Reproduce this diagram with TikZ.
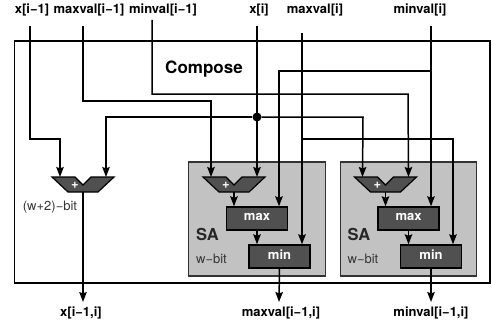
\documentclass[tikz,border=0pt]{standalone}
\usepackage{fontspec}
\setmainfont{TeX Gyre Heros}
\usepackage{tikz}
\usetikzlibrary{arrows.meta}
\definecolor{saGray}{HTML}{C2C2C2}
\definecolor{unitGray}{HTML}{505050}
\tikzset{
     outerBox/.style =
        { draw
        , line width=1.5pt
        , minimum width=475.5pt
        , minimum height=242pt
        },
     saBox/.style =
        { draw=black!80
        , fill=saGray
        , line width=1.2pt
        , minimum width=136.5pt
        , minimum height=114pt
        },
     unitNode/.style =
        { draw=black
        , fill=unitGray
        , line width=1.4pt
        , minimum width=61pt
        , minimum height=23pt
        , inner sep=0pt
        , text depth=3pt
        , text=white
        , font=\fontsize{13}{13}\selectfont\bfseries
        },
     adderBody/.style =
        { draw=black
        , fill=unitGray
        , line width=1.2pt
        },
     plusNode/.style =
        { inner sep=0pt
        , text=white
        , font=\fontsize{13}{13}\selectfont\bfseries
        },
     sigLabel/.style =
        { inner sep=0pt
        , font=\fontsize{13}{13}\selectfont\bfseries
        },
     widthLabel/.style =
        { inner sep=0pt
        , text=black!80
        , font=\fontsize{13}{13}\selectfont
        },
     saLabel/.style =
        { inner sep=0pt
        , text=black!85
        , font=\fontsize{16.5}{16.5}\selectfont\bfseries
        },
     wire/.style =
        { ->
        , line width=1.5pt
        }
}
% name, x of the notch
\newcommand{\adderUnit}[2]{
    \draw[adderBody] (#2-31,177) -- (#2-8,177) -- (#2,185) -- (#2+8,177)
        -- (#2+31,177) -- (#2+15,192) -- (#2-15,192) -- cycle;
    \node[plusNode] (#1) at (#2-8,185) {+};
    \coordinate (#1a) at (#2-23,177);
    \coordinate (#1b) at (#2+23,177);
    \coordinate (#1o) at (#2,192);
}

\begin{document}
\begin{tikzpicture}
            [ x=1pt
            , y=-1pt
            , >={Stealth[length=10pt,width=7.5pt,inset=1.5pt]}
            , node distance=151.5pt
            ]
            \useasboundingbox (0,0) rectangle (492,329);

            \node[outerBox] (compose) at (252.25,162) {};
            \node[saBox] (saA) at (257,219) {};
            \node[saBox] (saB) [right of=saA] {};

            \node[unitNode] (maxA) at (257,218.5) {max};
            \node[unitNode] (minA) at (279.5,256.5) {min};
            \node[unitNode] (maxB) [right of=maxA] {max};
            \node[unitNode] (minB) [right of=minA] {min};

            \adderUnit{addL}{83}
            \adderUnit{addA}{234}
            \adderUnit{addB}{385.5}

            % labels
            \node[sigLabel] (lblA) at (32,10) {x[i−1]};
            \node[sigLabel] (lblB) at (89,10) {maxval[i−1]};
            \node[sigLabel] (lblC) at (163,10) {minval[i−1]};
            \node[sigLabel] (lblD) at (259,10) {x[i]};
            \node[sigLabel] (lblE) at (315,10) {maxval[i]};
            \node[sigLabel] (lblF) at (420,10) {minval[i]};
            \node[sigLabel] (lblX) at (81,313) {x[i−1,i]};
            \node[sigLabel] (lblY) at (281,313) {maxval[i−1,i]};
            \node[sigLabel] (lblZ) at (431,313) {minval[i−1,i]};
            \node[inner sep=0pt, font=\fontsize{17}{17}\selectfont\bfseries] (lblCompose) at (204,69) {Compose};
            \node[widthLabel] (lblW) at (50,207) {(w+2)−bit};
            \node[saLabel] (lblSaA) at (207.5,234) {SA};
            \node[saLabel] (lblSaB) at (359,234) {SA};
            \node[widthLabel] (lblWa) at (211.5,259) {w−bit};
            \node[widthLabel] (lblWb) at (363,259) {w−bit};

            % free ends and bends
            \coordinate (inA) at (30,26);
            \coordinate (inB) at (83,26);
            \coordinate (inC) at (152,20);
            \coordinate (inD) at (257,26);
            \coordinate (inE) at (302,33);
            \coordinate (inF) at (431,26);
            \coordinate (turnA) at (60,139);
            \coordinate (turnB) at (211,101);
            \coordinate (turnC) at (408,94);
            \coordinate (turnE) at (453,139);
            \coordinate (turnF) at (279,71);
            \coordinate (outA) at (83,302);
            \coordinate (outB) at (279,302);
            \coordinate (outC) at (431,302);
            \coordinate (tapL) at (106,117);
            \coordinate (tapR) at (363,117);

            \draw[wire] (inA) |- (turnA) -- (addLa);
            \draw[wire] (inB) |- (turnB) -- (addAa);
            \draw[wire] (inC) |- (turnC) -- (addBb);
            \draw[wire] (inD) -- (addAb);
            \draw[wire] (inE) -- (inE |- minA.north);
            \draw[wire] (inF) -- (inF |- maxB.north);

            \node[circle, fill=black, inner sep=0pt, minimum size=9pt] (tapNode) at (257,117) {};
            \draw[wire] (tapNode) -- (tapL) -- (addLb);
            \draw[wire] (tapNode) -- (tapR) -- (addBa);
            \draw[wire] (inE |- turnE) -- (turnE) -- (turnE |- minB.north);
            \draw[wire] (inF |- turnF) -- (turnF) -- (turnF |- maxA.north);

            \draw[wire] (addAo) -- (addAo |- maxA.north);
            \draw[wire] (addBo) -- (addBo |- maxB.north);
            \draw[wire] (maxA.south) -- (maxA.south |- minA.north);
            \draw[wire] (maxB.south) -- (maxB.south |- minB.north);

            \draw[wire] (addLo) -- (outA);
            \draw[wire] (minA.south) -- (outB);
            \draw[wire] (minB.south) -- (outC);
\end{tikzpicture}
\end{document}
